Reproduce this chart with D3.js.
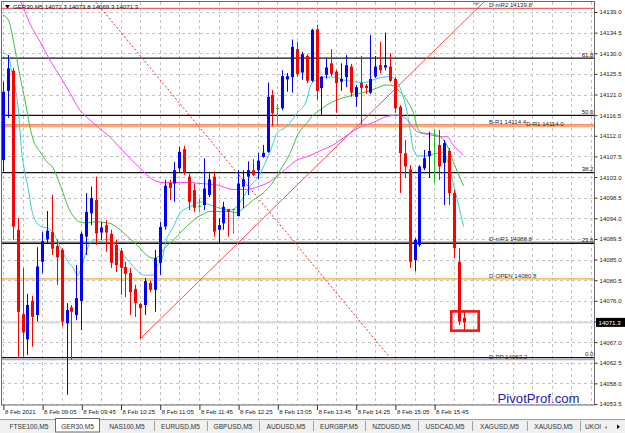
<!DOCTYPE html>
<html><head><meta charset="utf-8">
<script src="https://cdn.jsdelivr.net/npm/d3@7"></script>
<style>
html,body{margin:0;padding:0;background:#fff;}
svg{display:block;font-family:"Liberation Sans",Arial,sans-serif;}
</style></head><body>
<svg id="c" width="625" height="433"></svg>
<script>
// ---------------- DATA ----------------
const symbol = "GER30,M5";
const lastQuote = ["14072.3", "14073.8", "14069.3", "14071.3"];
const opens  = [14106.7,14121.8,14126.2,14091.5,14073.1,14067.6,14076.0,14072.9,14084.5,14089.4,14091.0,14088.0,14087.1,14071.1,14074.6,14072.9,14076.0,14090.0,14095.1,14098.0,14090.9,14092.5,14090.6,14088.2,14086.9,14083.4,14082.1,14078.6,14075.3,14075.1,14079.9,14078.4,14084.3,14092.2,14101.7,14101.6,14104.9,14109.1,14103.1,14100.2,14096.7,14096.9,14099.1,14103.1,14091.5,14092.9,14096.0,14096.0,14094.5,14100.9,14103.1,14104.5,14104.5,14107.4,14108.5,14120.9,14118.0,14118.0,14124.3,14124.8,14130.9,14125.8,14129.4,14124.0,14135.2,14122.4,14125.3,14127.8,14126.0,14123.8,14124.8,14127.1,14120.5,14123.5,14122.9,14121.4,14124.9,14127.4,14126.9,14127.1,14124.4,14118.3,14108.2,14104.7,14084.9,14088.2,14104.9,14107.6,14112.2,14110.0,14106.1,14108.7,14099.5,14084.5,14072.3];
const highs  = [14123.8,14129.6,14126.8,14094.1,14083.2,14077.5,14077.1,14087.7,14091.0,14095.6,14099.1,14089.3,14087.5,14075.5,14075.1,14083.8,14091.1,14099.5,14100.9,14103.1,14093.2,14093.6,14091.5,14089.3,14087.5,14084.5,14083.2,14079.5,14075.5,14081.0,14080.5,14087.1,14093.2,14102.4,14102.4,14106.3,14109.6,14109.8,14103.8,14101.6,14098.4,14107.1,14103.8,14104.2,14094.0,14097.6,14096.0,14096.0,14104.5,14104.5,14106.4,14106.9,14108.3,14110.0,14123.6,14122.0,14118.9,14126.3,14125.7,14133.0,14132.5,14130.3,14129.8,14135.3,14136.2,14125.0,14128.9,14130.9,14126.4,14127.8,14129.6,14127.7,14123.1,14129.4,14123.3,14134.0,14129.4,14132.5,14134.5,14130.0,14124.8,14118.7,14111.1,14105.6,14089.7,14105.6,14108.9,14112.9,14113.3,14113.3,14111.1,14109.3,14100.2,14087.5,14073.8];
const lows   = [14104.2,14115.9,14089.3,14063.8,14063.8,14064.2,14066.0,14071.5,14082.0,14088.6,14086.0,14079.5,14070.5,14055.5,14063.1,14071.8,14069.6,14086.0,14092.5,14088.2,14089.3,14086.7,14083.2,14082.3,14077.3,14076.8,14072.9,14072.5,14067.7,14072.9,14077.9,14073.6,14081.6,14091.5,14098.0,14097.6,14104.1,14103.5,14095.8,14095.4,14095.4,14095.8,14098.6,14090.0,14088.6,14091.5,14090.0,14090.6,14094.4,14096.2,14099.1,14103.2,14102.5,14107.2,14108.3,14114.1,14114.1,14117.6,14121.6,14121.4,14124.9,14124.2,14123.5,14123.7,14119.8,14116.5,14124.5,14125.0,14117.0,14121.8,14122.6,14120.5,14118.3,14114.4,14121.1,14121.1,14124.6,14125.6,14126.3,14123.7,14117.0,14099.5,14102.8,14083.2,14082.4,14087.8,14104.5,14102.8,14101.7,14102.4,14096.9,14096.9,14085.3,14070.7,14069.3];
const closes = [14121.6,14126.7,14092.2,14073.6,14069.1,14075.1,14072.5,14083.5,14089.0,14091.3,14087.4,14085.5,14071.5,14074.0,14073.6,14076.6,14090.6,14095.4,14098.4,14090.7,14092.0,14090.9,14084.3,14083.8,14083.2,14081.9,14077.9,14075.5,14074.4,14080.3,14078.4,14085.3,14092.1,14101.1,14100.6,14104.5,14108.5,14103.9,14097.6,14096.3,14096.7,14100.5,14102.5,14091.1,14092.5,14096.5,14095.4,14096.0,14101.6,14102.5,14104.5,14103.5,14106.6,14108.3,14120.5,14116.9,14118.0,14125.0,14125.0,14131.4,14125.5,14129.8,14124.0,14135.1,14121.8,14124.9,14126.9,14125.5,14123.5,14124.4,14127.4,14121.4,14122.6,14122.4,14122.4,14124.4,14127.1,14126.3,14127.4,14124.0,14118.0,14108.2,14105.3,14084.5,14089.3,14105.3,14107.1,14108.7,14112.2,14105.3,14110.4,14099.5,14087.5,14071.5,14071.3];

const timeLabels = ["8 Feb 2021","8 Feb 09:05","8 Feb 09:45","8 Feb 10:25","8 Feb 11:05","8 Feb 11:45","8 Feb 12:25","8 Feb 13:05","8 Feb 13:45","8 Feb 14:25","8 Feb 15:05","8 Feb 15:45"];
const timeLabelBars = [0,8,16,24,32,40,48,56,64,72,80,88];
const priceTicks = [14053.5,14058.0,14062.5,14067.0,14071.5,14076.0,14080.5,14085.0,14089.5,14094.0,14098.5,14103.0,14107.5,14112.0,14116.5,14121.0,14125.5,14130.0,14134.5,14139.0];

// moving averages: [bar, price]
const maFast = [[0,14130.0],[1,14129.6],[2.1,14124.2],[3.1,14118.3],[3.8,14108.9],[4.5,14103.9],[5.2,14100.2],[5.9,14095.8],[6.9,14093.0],[7.9,14092.2],[9.3,14091.8],[10.3,14090.8],[11.3,14088.6],[12.3,14086.4],[13.3,14084.5],[14.4,14083.1],[15.2,14081.6],[16.1,14083.5],[17,14086.7],[17.8,14088.6],[18.8,14089.3],[19.8,14088.9],[20.8,14089.4],[21.9,14089.3],[22.9,14088.2],[24.9,14085.6],[26.6,14083.5],[28,14082.0],[28.7,14081.6],[30.7,14081.6],[31.4,14083.5],[32.4,14084.9],[33.4,14089.3],[34.8,14092.2],[36.1,14095.1],[37.5,14096.2],[38.9,14096.9],[40.2,14097.6],[42.3,14096.9],[44.3,14096.2],[46.3,14095.8],[47.7,14096.5],[49.1,14098.7],[50.4,14100.9],[52.1,14103.1],[53.8,14106.7],[54.9,14109.6],[55.9,14112.5],[57.9,14114.0],[60,14116.9],[62,14119.8],[63,14123.5],[64,14124.2],[65.4,14124.8],[67.4,14124.8],[69.4,14124.2],[71.5,14123.8],[73.6,14123.6],[75.6,14124.2],[77.6,14124.8],[79,14124.9],[80.4,14123.8],[81.7,14120.5],[82.4,14117.6],[83.1,14113.3],[83.8,14108.9],[84.8,14107.6],[86.8,14107.6],[87.8,14108.0],[89.9,14108.3],[90.9,14106.0],[91.9,14101.6],[92.9,14097.3],[94,14092.2]];
const maMid = [[0,14138.3],[1.1,14137.3],[2.5,14130.7],[3.5,14124.9],[4.5,14119.8],[5.5,14114.0],[6.2,14111.1],[7.6,14108.5],[8.9,14106.4],[10.3,14104.9],[11.3,14102.4],[12.3,14099.5],[13.3,14096.5],[14.4,14094.4],[15.4,14093.3],[17.1,14093.0],[19.1,14093.3],[21.2,14093.0],[21.9,14092.9],[23.9,14091.5],[25.9,14089.6],[28,14087.5],[29.3,14086.0],[30.7,14085.3],[31.7,14085.6],[32.7,14087.1],[34.1,14088.6],[35.5,14090.0],[36.8,14091.5],[38.2,14092.9],[39.6,14094.2],[40.9,14094.9],[42.3,14095.5],[44.3,14095.5],[46.3,14095.5],[47.7,14095.2],[49.1,14096.2],[51.1,14098.0],[53.1,14099.5],[54.9,14101.6],[56.6,14104.5],[58.6,14108.2],[60.3,14112.5],[62,14114.7],[63.3,14116.5],[64.7,14117.6],[66.1,14118.7],[68.1,14119.8],[70.2,14120.5],[72.2,14121.1],[74.2,14121.6],[76.3,14122.4],[78.3,14123.1],[79.7,14122.9],[81,14121.6],[82.4,14119.8],[83.8,14116.9],[84.8,14113.3],[85.8,14112.6],[87.2,14112.5],[89.2,14111.8],[90.6,14110.0],[91.9,14106.4],[92.9,14103.8],[94,14101.1]];
const maSlow = [[2,14145.0],[3.8,14140.9],[5.5,14136.5],[7.6,14132.5],[9.6,14128.5],[11.7,14124.9],[13.7,14121.3],[15.7,14117.6],[17.8,14115.4],[19.8,14113.5],[21.9,14111.7],[22.5,14111.0],[25.3,14107.8],[28,14104.9],[30.7,14102.4],[32.7,14101.8],[35.5,14101.8],[38.2,14101.8],[40.2,14101.6],[43.6,14101.3],[47,14100.3],[49.8,14100.3],[52.1,14100.9],[53.8,14101.6],[55.9,14103.1],[57.9,14104.9],[60,14106.7],[62,14107.4],[64.7,14108.7],[67.4,14110.0],[70.2,14112.1],[72.9,14113.9],[75.6,14114.9],[78.3,14116.2],[80.4,14116.5],[82.4,14115.6],[84.5,14112.9],[87.2,14112.2],[89.2,14111.8],[90.6,14111.8],[91.9,14110.0],[94,14107.8]];

// drawn objects
const fibAnchors = [[-2.8,14169.3],[79,14063.6]];
const fibLevels = [0,23.6,38.2,50,61.8];
const trendAnchors = [[28,14067.7],[98,14141.0]];
const boxAnchors = [[91.5,14073.7],[97.1,14069.5]];

// daily pivot lines
const pivotNames  = ["D-mR2","B-R1","D-R1","D-mR1","D-OPEN","D-PP"];
const pivotValues = [14139.8,14114.4,14114.0,14088.8,14080.8,14063.2];
const pivotColors = ["#f06060","#f05a5a","#f0b060","#808080","#f0a840","#c890e0"];
const pivotLabelBar = [99.2,99.2,106.8,99.2,99.2,99.2];

const tabs = ["FTSE100,M5","GER30,M5","NAS100,M5","EURUSD,M5","GBPUSD,M5","AUDUSD,M5","EURGBP,M5","NZDUSD,M5","USDCAD,M5","XAGUSD,M5","XAUUSD,M5","UKOI"];
const tabEdges = [3,55,100,154,207,259,313,365,418,472,527,580,604];
const activeTab = 1;

// ---------------- DRAW ----------------
const svg = d3.select("#c");
const L = 2, R = 594.5, T = 2, B = 405;
const x = d3.scaleLinear().domain([0, 94]).range([2.9, 463.5]);
const y = d3.scaleLinear().domain([14053.5, 14139.0]).range([404, 12]);
const FS = 6.1;

svg.append("rect").attr("width",625).attr("height",433).attr("fill","#fff");
svg.append("defs").append("clipPath").attr("id","plot")
  .append("rect").attr("x",L).attr("y",T).attr("width",R-L).attr("height",B-T);
const g = svg.append("g").attr("clip-path","url(#plot)");

// grid
const vGrid = d3.range(0, 124, 4);
g.selectAll(".vg").data(vGrid).enter().append("line")
  .attr("x1",d=>Math.round(x(d))+0.5).attr("x2",d=>Math.round(x(d))+0.5)
  .attr("y1",T).attr("y2",B).attr("stroke","#c4c4c4").attr("stroke-dasharray","3,3");
g.selectAll(".hg").data(priceTicks).enter().append("line")
  .attr("x1",L).attr("x2",R).attr("y1",d=>Math.round(y(d))+0.5).attr("y2",d=>Math.round(y(d))+0.5)
  .attr("stroke","#c4c4c4").attr("stroke-dasharray","3,3");

// current price line
const lastClose = closes[closes.length-1];
g.append("line").attr("x1",L).attr("x2",R).attr("y1",y(lastClose)).attr("y2",y(lastClose))
  .attr("stroke","#dcdcdc").attr("stroke-width",2);

// pivot lines
pivotValues.forEach((v,k)=>{
  g.append("line").attr("x1",L).attr("x2",R).attr("y1",y(v)).attr("y2",y(v))
    .attr("stroke",pivotColors[k]).attr("stroke-width",1.3);
});

// fibonacci
const fibHi = fibAnchors[0][1], fibLo = fibAnchors[1][1];
const fibPrice = l => fibLo + (fibHi - fibLo) * l / 100;
fibLevels.forEach(l=>{
  g.append("line").attr("x1",L).attr("x2",R).attr("y1",y(fibPrice(l))).attr("y2",y(fibPrice(l)))
    .attr("stroke","#111").attr("stroke-width",1.3);
});
g.append("line")
  .attr("x1",x(fibAnchors[0][0])).attr("y1",y(fibAnchors[0][1]))
  .attr("x2",x(fibAnchors[1][0])).attr("y2",y(fibAnchors[1][1]))
  .attr("stroke","#ff2020").attr("stroke-width",1).attr("stroke-dasharray","2,2");

// trend line (ray)
{
  const [a,b] = trendAnchors;
  const slope = (b[1]-a[1])/(b[0]-a[0]);
  const iEnd = 110;
  g.append("line").attr("x1",x(a[0])).attr("y1",y(a[1]))
    .attr("x2",x(iEnd)).attr("y2",y(a[1]+slope*(iEnd-a[0])))
    .attr("stroke","#ff4848").attr("stroke-width",1);
}

// moving averages
const line = d3.line().x(d=>x(d[0])).y(d=>y(d[1])).curve(d3.curveMonotoneX);
[[maSlow,"#ff40ff"],[maMid,"#3cc03c"],[maFast,"#30d0d0"]].forEach(([data,col])=>{
  g.append("path").attr("d",line(data)).attr("fill","none").attr("stroke",col).attr("stroke-width",1);
});

// candles
const bars = opens.map((o,i)=>({i,o,h:highs[i],l:lows[i],c:closes[i]}));
const colOf = d => d.c > d.o ? "#0000ff" : (d.c < d.o ? "#ff0000" : "#22c022");
const cg = g.append("g");
bars.forEach(d=>{
  const cx = Math.round(x(d.i));
  cg.append("line").attr("x1",cx+0.5).attr("x2",cx+0.5).attr("y1",y(d.h)).attr("y2",y(d.l))
    .attr("stroke",colOf(d)).attr("stroke-width",1);
  if (d.c === d.o) {
    cg.append("line").attr("x1",cx-1).attr("x2",cx+2).attr("y1",Math.round(y(d.c))+0.5).attr("y2",Math.round(y(d.c))+0.5)
      .attr("stroke",colOf(d)).attr("stroke-width",1);
  } else {
    const top = y(Math.max(d.o,d.c)), bot = y(Math.min(d.o,d.c));
    cg.append("rect").attr("x",cx-1).attr("width",3).attr("y",top).attr("height",Math.max(1,bot-top))
      .attr("fill",colOf(d));
  }
});

// rectangle object
g.append("rect")
  .attr("x",x(boxAnchors[0][0])).attr("y",y(boxAnchors[0][1]))
  .attr("width",x(boxAnchors[1][0])-x(boxAnchors[0][0])).attr("height",y(boxAnchors[1][1])-y(boxAnchors[0][1]))
  .attr("fill","none").attr("stroke","#ff1010").attr("stroke-width",2.6);

// pivot labels
pivotValues.forEach((v,k)=>{
  g.append("text").attr("x",x(pivotLabelBar[k])).attr("y",y(v)-1).attr("font-size",FS).attr("fill","#2a2a2a")
    .text(pivotNames[k]+" "+v.toFixed(1));
});
// fib labels
fibLevels.forEach(l=>{
  g.append("text").attr("x",R-1).attr("y",y(fibPrice(l))-1.5).attr("text-anchor","end")
    .attr("font-size",FS).attr("fill","#222").text(l.toFixed(1));
});

// chart-shift marker
svg.append("path").attr("d","M473,2.5 L480,2.5 L476.5,6 Z").attr("fill","#a8a8a8");

// header
svg.append("path").attr("d","M5,5 L10,5 L7.5,8.5 Z").attr("fill","#000");
svg.append("text").attr("x",13).attr("y",9).attr("font-size",FS).attr("fill","#111")
  .text(symbol+"  "+lastQuote.join(" "));

// watermark
svg.append("text").attr("x",497.5).attr("y",402.5).attr("font-size",13.2).attr("fill","#2020c0")
  .attr("font-family","Liberation Sans, Arial, sans-serif").text("PivotProf.com");

// frame
svg.append("rect").attr("x",1.5).attr("y",1.5).attr("width",R-1.5).attr("height",B-1.5)
  .attr("fill","none").attr("stroke","#6a6a6a").attr("stroke-width",1);

// price axis
const ya = svg.append("g").attr("transform",`translate(${R},0)`)
  .call(d3.axisRight(y).tickValues(priceTicks).tickFormat(d3.format(".1f")).tickSize(3).tickPadding(2));
ya.select(".domain").remove();
ya.selectAll("line").attr("stroke","#333");
ya.selectAll("text").attr("font-size",FS).attr("fill","#222").attr("font-family","Liberation Sans, Arial, sans-serif");

// current price label
svg.append("rect").attr("x",596).attr("y",y(lastClose)-4.5).attr("width",29).attr("height",9).attr("fill","#000");
svg.append("text").attr("x",598.5).attr("y",y(lastClose)+2.2).attr("font-size",FS).attr("fill","#fff")
  .text(lastClose.toFixed(1));

// time axis
const xa = svg.append("g").attr("transform",`translate(0,${B})`)
  .call(d3.axisBottom(x).tickValues(timeLabelBars).tickFormat((d,k)=>timeLabels[k]).tickSize(5).tickPadding(3));
xa.select(".domain").remove();
xa.selectAll("line").attr("stroke","#333").attr("transform","translate(0.5,0)");
xa.selectAll("text").attr("font-size",FS).attr("fill","#222").attr("text-anchor","start")
  .attr("dx","1.5").attr("dy","0.1em").attr("font-family","Liberation Sans, Arial, sans-serif");

// tab bar
svg.append("rect").attr("x",0).attr("y",419).attr("width",625).attr("height",14).attr("fill","#f0f0f0");
svg.append("line").attr("x1",0).attr("x2",625).attr("y1",419.5).attr("y2",419.5).attr("stroke","#a0a0a0");
tabs.forEach((t,k)=>{
  const a = tabEdges[k], b = tabEdges[k+1];
  if (k===activeTab) {
    svg.append("rect").attr("x",a+0.5).attr("y",418.5).attr("width",b-a-1).attr("height",13.5)
      .attr("fill","#fff").attr("stroke","#6a6a6a");
  } else if (k>0 && k-1!==activeTab) {
    svg.append("line").attr("x1",a+0.5).attr("x2",a+0.5).attr("y1",421).attr("y2",431).attr("stroke","#a0a0a0");
  }
  svg.append("text").attr("x",k===tabs.length-1 ? a+5 : (a+b)/2).attr("y",429)
    .attr("text-anchor",k===tabs.length-1?"start":"middle").attr("font-size",6.6).attr("fill","#333").text(t);
});
svg.append("rect").attr("x",602).attr("y",420).attr("width",23).attr("height",13).attr("fill","#f0f0f0");
svg.append("path").attr("d","M607,426 L604.5,427.5 L607,429 Z").attr("fill","#888");
svg.append("path").attr("d","M617,424.5 L620,426.8 L617,429 Z").attr("fill","#000");
</script>
</body></html>
